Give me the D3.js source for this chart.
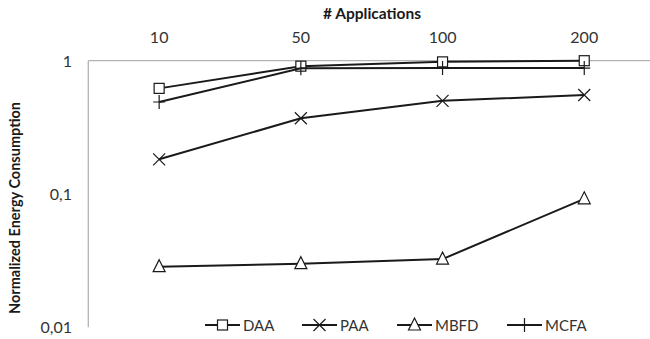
<!DOCTYPE html>
<html>
<head>
<meta charset="utf-8">
<script src="https://cdn.jsdelivr.net/npm/d3@7"></script>
<style>
  body { margin: 0; background: #fff; }
  text { font-family: Lato, "Open Sans", sans-serif; }
</style>
</head>
<body>
<div id="chart"></div>
<script>
var width = 650;
var height = 339;

var categories = ["10", "50", "100", "200"];
var seriesNames = ["DAA", "PAA", "MBFD", "MCFA"];
var daa = [0.62, 0.91, 0.98, 1.0];
var paa = [0.182, 0.37, 0.50, 0.553];
var mbfd = [0.0285, 0.030, 0.0325, 0.092];
var mcfa = [0.49, 0.877, 0.88, 0.88];
var yTicks = [1, 0.1, 0.01];
var yTickLabels = ["1", "0,1", "0,01"];

var margin = { left: 88.3, top: 60.7, bottom: 327.3 };

function createSVG() {
  return d3.select("#chart")
    .append("svg")
    .attr("width", width)
    .attr("height", height);
}

// marker shapes, drawn centred on 0,0
function drawMarker(g, type) {
  if (type === "DAA") {
    g.append("rect").attr("x", -5).attr("y", -5).attr("width", 10).attr("height", 10)
      .attr("fill", "#fff").attr("stroke", "#1a1a1a").attr("stroke-width", 1.2);
  } else if (type === "PAA") {
    g.append("path").attr("d", "M-6,-6L6,6M-6,6L6,-6")
      .attr("stroke", "#1a1a1a").attr("stroke-width", 1.2);
  } else if (type === "MBFD") {
    g.append("path").attr("d", "M0,-7L6,5L-6,5Z")
      .attr("fill", "#fff").attr("stroke", "#1a1a1a").attr("stroke-width", 1.2);
  } else {
    g.append("path").attr("d", "M-6,0L6,0M0,-7L0,7")
      .attr("stroke", "#1a1a1a").attr("stroke-width", 1.2);
  }
}

function createChart() {
  var svg = createSVG();
  var series = [daa, paa, mbfd, mcfa];

  var x = d3.scaleBand()
    .domain(categories)
    .range([margin.left, margin.left + 4 * 141.7]);

  var y = d3.scaleLog()
    .domain([0.01, 1])
    .range([margin.bottom, margin.top]);

  // axes (grey lines)
  svg.append("line")
    .attr("x1", margin.left).attr("x2", width)
    .attr("y1", y(1)).attr("y2", y(1))
    .attr("stroke", "#b3b3b3").attr("stroke-width", 1.3);
  svg.append("line")
    .attr("x1", margin.left).attr("x2", margin.left)
    .attr("y1", y(1)).attr("y2", y(0.01))
    .attr("stroke", "#b3b3b3").attr("stroke-width", 1.3);

  // x tick labels on top
  svg.selectAll(".xlab")
    .data(categories)
    .enter()
    .append("text")
    .attr("x", function(d) { return x(d) + x.bandwidth() / 2; })
    .attr("y", 43)
    .attr("text-anchor", "middle")
    .style("font-size", "16px")
    .attr("fill", "#333")
    .text(function(d) { return d; });

  // y tick labels
  svg.selectAll(".ylab")
    .data(yTicks)
    .enter()
    .append("text")
    .attr("x", 72)
    .attr("y", function(d) { return y(d) + 6; })
    .attr("text-anchor", "end")
    .style("font-size", "16px")
    .attr("fill", "#333")
    .text(function(d, i) { return yTickLabels[i]; });

  // titles
  svg.append("text")
    .attr("x", 372).attr("y", 19)
    .attr("text-anchor", "middle")
    .style("font-size", "15.5px").style("font-weight", "bold")
    .attr("fill", "#1a1a1a")
    .text("# Applications");

  svg.append("text")
    .attr("transform", "translate(20,208) rotate(-90)")
    .attr("text-anchor", "middle")
    .style("font-size", "14.5px").style("font-weight", "bold")
    .attr("fill", "#1a1a1a")
    .text("Normalized Energy Consumption");

  var line = d3.line()
    .x(function(d, i) { return x(categories[i]) + x.bandwidth() / 2; })
    .y(function(d) { return y(d); });

  series.forEach(function(values, s) {
    svg.append("path")
      .datum(values)
      .attr("d", line)
      .attr("fill", "none")
      .attr("stroke", "#1a1a1a")
      .attr("stroke-width", 2);

    values.forEach(function(v, i) {
      var g = svg.append("g")
        .attr("transform", "translate(" + (x(categories[i]) + x.bandwidth() / 2) + "," + y(v) + ")");
      drawMarker(g, seriesNames[s]);
    });
  });

  // legend
  var legendX = [205, 302, 397, 507];
  var legendY = 325;
  seriesNames.forEach(function(name, i) {
    var lg = svg.append("g").attr("transform", "translate(" + legendX[i] + "," + legendY + ")");
    lg.append("line")
      .attr("x1", 0).attr("x2", 35)
      .attr("y1", 0).attr("y2", 0)
      .attr("stroke", "#1a1a1a").attr("stroke-width", 2);
    var m = lg.append("g").attr("transform", "translate(17.5,0)");
    drawMarker(m, name);
    lg.append("text")
      .attr("x", 38).attr("y", 5.5)
      .style("font-size", "15px")
      .attr("fill", "#333")
      .text(name);
  });
}

window.onload = function() {
  createChart();
};
</script>
</body>
</html>
